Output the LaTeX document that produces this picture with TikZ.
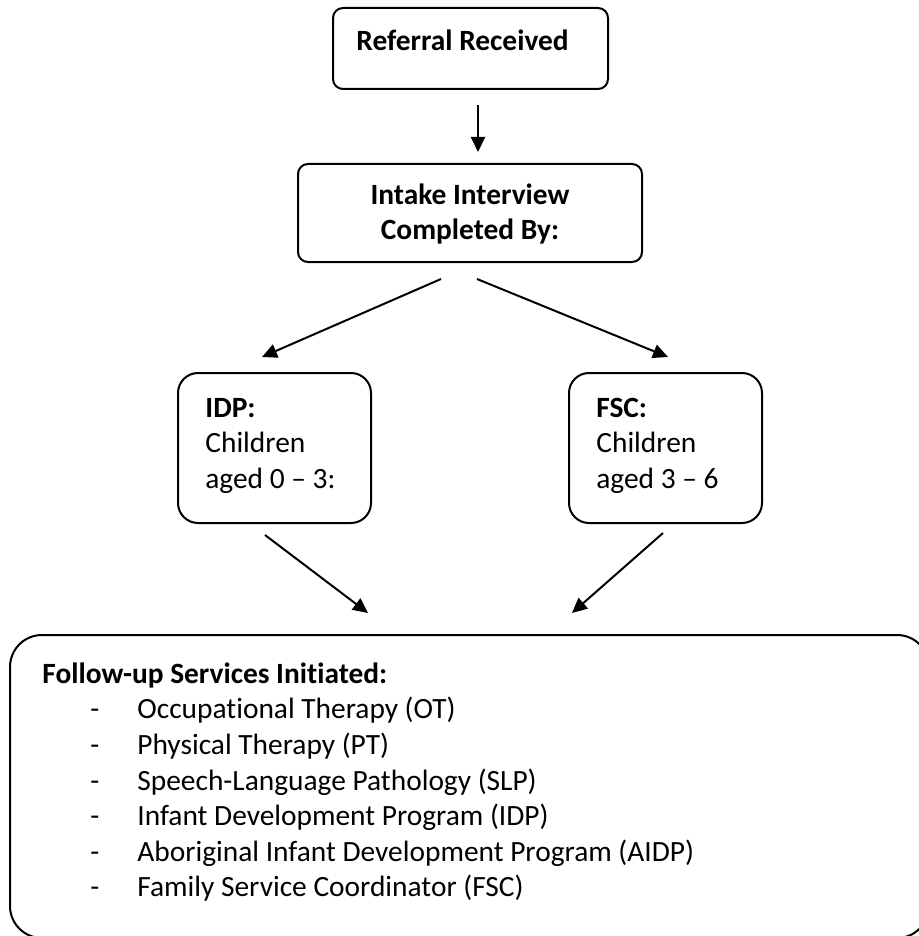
\documentclass[tikz,border=0pt]{standalone}
\usepackage{fontspec}
\setmainfont{Carlito}[Ligatures=NoCommon]
\usetikzlibrary{arrows.meta}

\newcommand{\svc}[1]{\hspace*{24pt}\makebox[23.5pt][l]{-}#1}

\begin{document}
\begin{tikzpicture}[x=0.5pt, y=-0.5pt,
    box/.style={draw, line width=1pt, rounded corners=#1, inner sep=0pt},
    txt/.style={inner sep=0pt, anchor=north west, align=left, font=\fontsize{14.7}{17.8}\selectfont},
    arr/.style={line width=1pt, -{Triangle[length=7.5pt, width=7pt]}}]
    \useasboundingbox (0,0) rectangle (919,936);

    % Boxes
    \node[box=5pt, minimum width=137.5pt, minimum height=40.5pt] (referral) at (470.5,48.5) {};
    \node[box=5pt, minimum width=172pt, minimum height=49pt] (intake) at (470,213) {};
    \node[box=10pt, minimum width=96.5pt, minimum height=75pt] (idp) at (274.5,448) {};
    \node[box=10pt, minimum width=96.5pt, minimum height=75pt] (fsc) at (665.5,448) {};
    \node[box=16pt, minimum width=459.5pt, minimum height=151.5pt] (services) at (469.5,786.5) {};

    % Texts
    \node[txt] (referraltxt) at (356,25) {\strut\textbf{Referral Received}};
    \node[txt, anchor=north, align=center] (intaketxt) at (470,179)
        {\strut\textbf{Intake Interview}\\\textbf{Completed By:}};
    \node[txt] (idptxt) at (205,392) {\strut\textbf{IDP:}\\Children\\aged 0 – 3:};
    \node[txt] (fsctxt) at (596,392) {\strut\textbf{FSC:}\\Children\\aged 3 – 6};
    \node[txt] (servicestxt) at (42,658) {\strut\textbf{Follow-up Services Initiated:}\\
        \svc{Occupational Therapy (OT)}\\
        \svc{Physical Therapy (PT)}\\
        \svc{Speech-Language Pathology (SLP)}\\
        \svc{Infant Development Program (IDP)}\\
        \svc{Aboriginal Infant Development Program (AIDP)}\\
        \svc{Family Service Coordinator (FSC)}};

    % Arrow ends
    \coordinate (r1) at (478,105);
    \coordinate (i1) at (478,152);
    \coordinate (i2) at (441,279);
    \coordinate (d1) at (262,357);
    \coordinate (i3) at (477,279);
    \coordinate (f1) at (668,357);
    \coordinate (d2) at (265,535);
    \coordinate (s1) at (368,613);
    \coordinate (f2) at (663,533);
    \coordinate (s2) at (572,613);

    \draw[arr] (r1) -- (i1);
    \draw[arr] (i2) -- (d1);
    \draw[arr] (i3) -- (f1);
    \draw[arr] (d2) -- (s1);
    \draw[arr] (f2) -- (s2);
\end{tikzpicture}
\end{document}
